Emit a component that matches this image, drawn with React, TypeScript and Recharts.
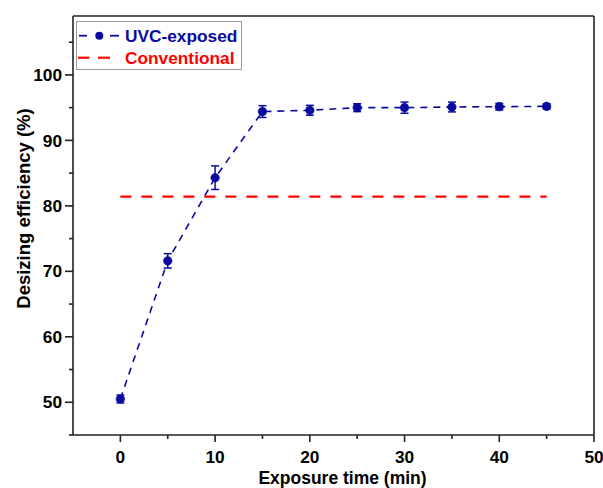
import React from 'react';
import { ComposedChart, Line, XAxis, YAxis, ErrorBar, Legend, Label, ReferenceLine } from 'recharts';

const times = [0, 5, 10, 15, 20, 25, 30, 35, 40, 45];
const uvcValues = [50.5, 71.6, 84.3, 94.4, 94.6, 95.0, 95.0, 95.1, 95.15, 95.2];
const uvcErrors = [0.6, 1.1, 1.8, 0.9, 0.75, 0.6, 0.85, 0.75, 0.5, 0.4];
const conventionalValue = 81.4;
const conventionalRange = [0, 45];
const xDomain = [-5, 50];
const yDomain = [45, 109];
const xTicks = [0, 5, 10, 15, 20, 25, 30, 35, 40, 45, 50];
const yTicks = [45, 50, 55, 60, 65, 70, 75, 80, 85, 90, 95, 100, 105];
const seriesNames = ['UVC-exposed', 'Conventional'];

const BLUE = '#0A0AA0';
const RED = '#FF0000';
const AXIS = '#222';
const FONT = '"Liberation Sans", Arial, sans-serif';

const uvcData = times.map((t, i) => ({ t, uvc: uvcValues[i], err: uvcErrors[i] }));
const convData = conventionalRange.map((t) => ({ t, conv: conventionalValue }));

const XTick = (props: any) => {
  const { x, y, payload } = props;
  const v = payload.value;
  const major = v % 10 === 0;
  const axisY = y - 16;
  return (
    <g>
      <line x1={x} x2={x} y1={axisY} y2={axisY + (major ? 7 : 4)} stroke={AXIS} strokeWidth={1.6} />
      {major && (
        <text x={x} y={y} dy="0.71em" textAnchor="middle" fontFamily={FONT} fontWeight="bold" fontSize={17.3} fill="#000">
          {v}
        </text>
      )}
    </g>
  );
};

const YTick = (props: any) => {
  const { x, y, payload } = props;
  const v = payload.value;
  const major = v % 10 === 0;
  const axisX = x + 11;
  return (
    <g>
      <line x1={axisX - (major ? 8 : 4)} x2={axisX} y1={y} y2={y} stroke={AXIS} strokeWidth={1.6} />
      {major && (
        <text x={x} y={y} dy="0.355em" textAnchor="end" fontFamily={FONT} fontWeight="bold" fontSize={17.3} fill="#000">
          {v}
        </text>
      )}
    </g>
  );
};

const LegendBox = () => (
  <svg width={167} height={50} style={{ display: 'block' }}>
    <rect x={0.5} y={0.5} width={165} height={48} fill="#fff" stroke="#9a9a9a" strokeWidth={1} />
    <line x1={3} x2={11} y1={14.7} y2={14.7} stroke={BLUE} strokeWidth={1.8} />
    <circle cx={23.3} cy={14.7} r={4} fill={BLUE} />
    <line x1={34} x2={43} y1={14.7} y2={14.7} stroke={BLUE} strokeWidth={1.8} />
    <text x={49} y={14.7} dy="0.355em" fontFamily={FONT} fontWeight="bold" fontSize={17.3} fill={BLUE}>
      {seriesNames[0]}
    </text>
    <line x1={2} x2={13.3} y1={36.7} y2={36.7} stroke={RED} strokeWidth={2.2} />
    <line x1={22} x2={34} y1={36.7} y2={36.7} stroke={RED} strokeWidth={2.2} />
    <text x={49} y={36.7} dy="0.355em" fontFamily={FONT} fontWeight="bold" fontSize={17.3} fill={RED}>
      {seriesNames[1]}
    </text>
  </svg>
);

const XLabel = (props: any) => {
  const { viewBox } = props;
  const cx = viewBox.x + viewBox.width / 2 + 9;
  return (
    <text x={cx} y={483.5} textAnchor="middle" fontFamily={FONT} fontWeight="bold" fontSize={17.5} fill="#000">
      Exposure time (min)
    </text>
  );
};

const YLabel = (props: any) => {
  const { viewBox } = props;
  const cy = viewBox.y + viewBox.height / 2 - 17;
  const cx = 23;
  return (
    <text
      x={cx}
      y={cy}
      dy="0.355em"
      textAnchor="middle"
      transform={`rotate(-90, ${cx}, ${cy})`}
      fontFamily={FONT}
      fontWeight="bold"
      fontSize={18.5}
      fill="#000"
    >
      Desizing efficiency (%)
    </text>
  );
};

export default function App() {
  return (
    <div style={{ position: 'absolute', left: 0, top: 0, background: '#fff' }}>
      <ComposedChart width={603} height={488} data={uvcData} margin={{ top: 16, right: 9, left: 13, bottom: 0 }}>
        <XAxis
          dataKey="t"
          type="number"
          domain={xDomain}
          ticks={xTicks}
          interval={0}
          height={53}
          tickSize={7}
          tickMargin={9}
          tickLine={false}
          tick={<XTick />}
          axisLine={{ stroke: AXIS, strokeWidth: 1.6 }}
          allowDataOverflow
        >
          <Label content={<XLabel />} />
        </XAxis>
        <YAxis
          type="number"
          domain={yDomain}
          ticks={yTicks}
          interval={0}
          width={60}
          tickSize={8}
          tickMargin={3}
          tickLine={false}
          tick={<YTick />}
          axisLine={{ stroke: AXIS, strokeWidth: 1.6 }}
          allowDataOverflow
        >
          <Label content={<YLabel />} />
        </YAxis>
        <ReferenceLine y={yDomain[1]} stroke={AXIS} strokeWidth={1.6} ifOverflow="visible" />
        <ReferenceLine x={xDomain[1]} stroke={AXIS} strokeWidth={1.6} ifOverflow="visible" />
        <Line
          data={convData}
          dataKey="conv"
          name={seriesNames[1]}
          type="linear"
          stroke={RED}
          strokeWidth={2.2}
          strokeDasharray="11 10"
          dot={false}
          activeDot={false}
          isAnimationActive={false}
        />
        <Line
          dataKey="uvc"
          name={seriesNames[0]}
          type="linear"
          stroke={BLUE}
          strokeWidth={1.6}
          strokeDasharray="7 6"
          dot={{ r: 4.3, fill: BLUE, stroke: BLUE, strokeWidth: 0.5, strokeDasharray: '' }}
          activeDot={false}
          isAnimationActive={false}
        >
          <ErrorBar dataKey="err" direction="y" width={4} stroke={BLUE} strokeWidth={1.5} isAnimationActive={false} />
        </Line>
        <Legend
          layout="horizontal"
          verticalAlign="middle"
          align="center"
          content={<LegendBox />}
          wrapperStyle={{ position: 'absolute', left: 76, top: 21, width: 167, height: 50 }}
        />
      </ComposedChart>
    </div>
  );
}
